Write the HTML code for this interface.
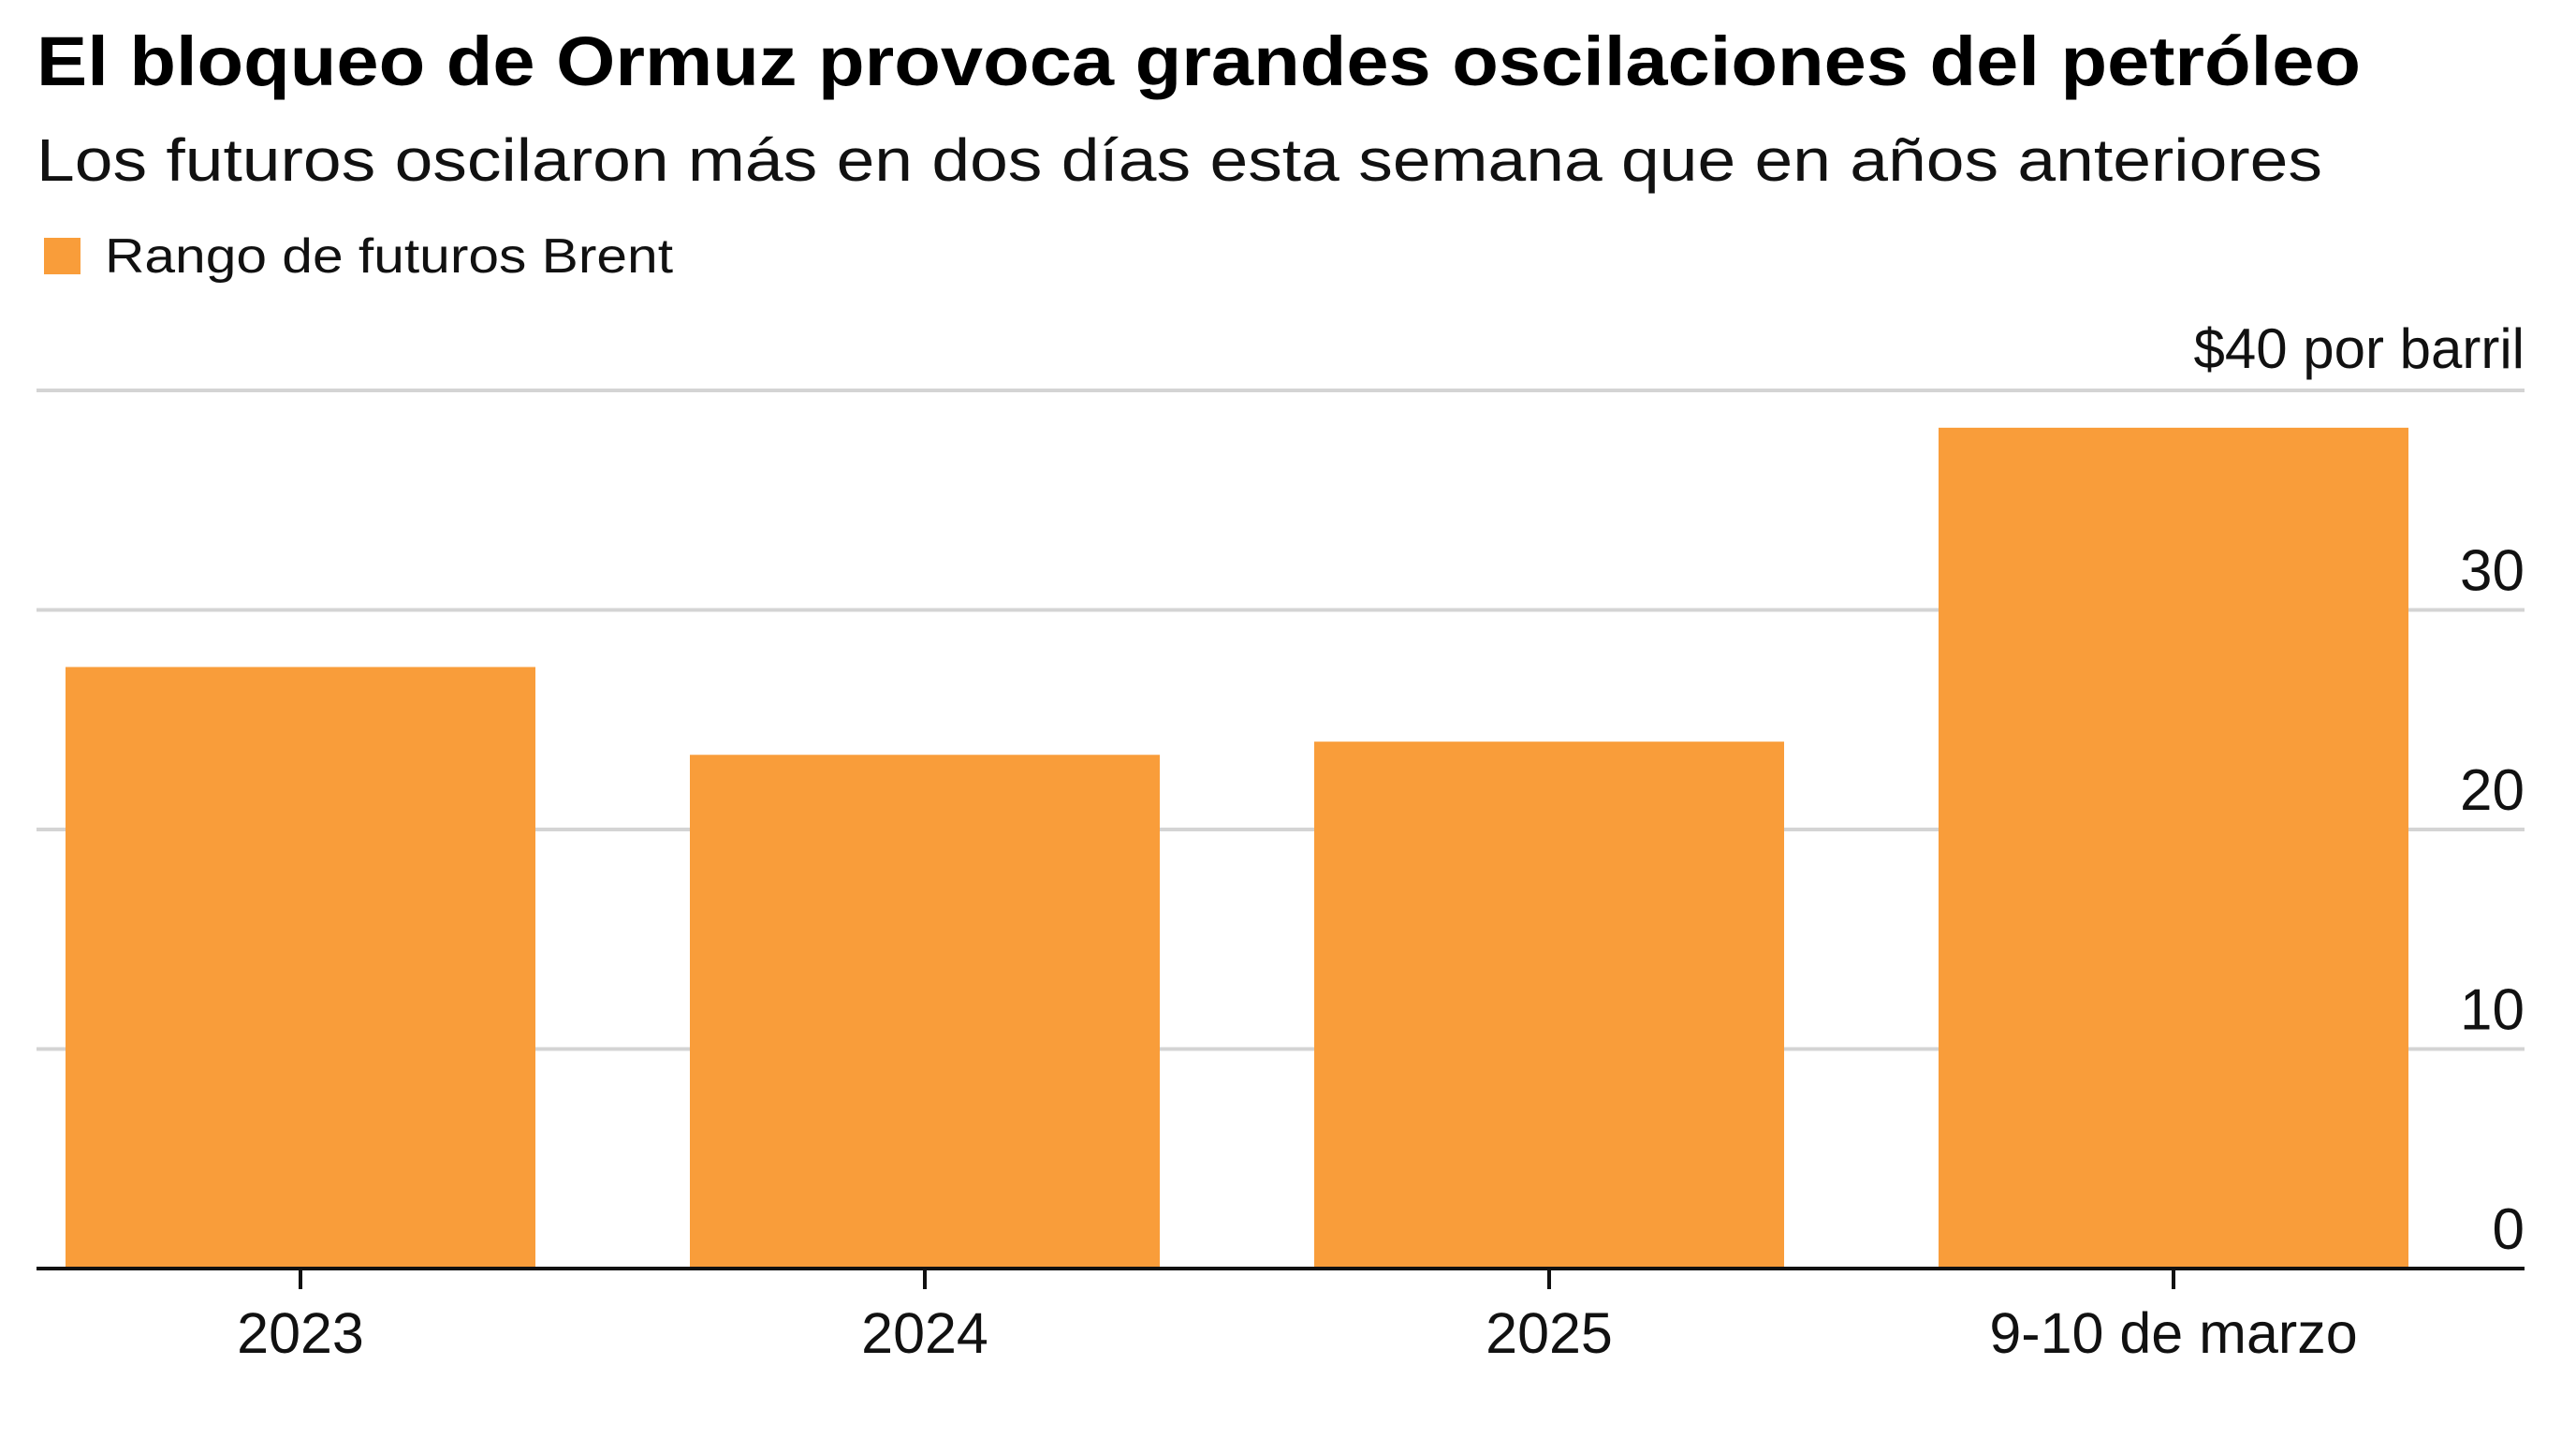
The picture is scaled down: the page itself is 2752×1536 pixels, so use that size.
<!DOCTYPE html>
<html><head><meta charset="utf-8"><style>
body{margin:0;background:#fff;}
svg{display:block;font-family:"Liberation Sans",sans-serif;}
</style></head><body>
<svg id="chart" width="2752" height="1536" viewBox="0 0 2752 1536">
<text x="39" y="91" font-size="74" font-weight="bold" fill="#000" textLength="2483" lengthAdjust="spacingAndGlyphs">El bloqueo de Ormuz provoca grandes oscilaciones del petróleo</text>
<text x="39" y="193" font-size="64" fill="#111" textLength="2442" lengthAdjust="spacingAndGlyphs">Los futuros oscilaron más en dos días esta semana que en años anteriores</text>
<rect x="47" y="254" width="39" height="39" fill="#f99d3a"/>
<text x="112" y="291" font-size="52" fill="#111" textLength="607" lengthAdjust="spacingAndGlyphs">Rango de futuros Brent</text>
<g id="grid"></g><g id="bars"></g><g id="xaxis"></g>
</svg>
<script>
const categories=["2023","2024","2025","9-10 de marzo"];
const values=[27.4,23.4,24.0,38.3];
const ticks=[0,10,20,30,40];
const tickLabels=["0","10","20","30","$40 por barril"];
const NS="http://www.w3.org/2000/svg";
const L=39,R=2697,Y0=1355,Y40=417;
const y=v=>Y0-(Y0-Y40)*v/40;
const band=667;
const cx=i=>321+band*i;
const bw=502;
function mk(t,a,p){const e=document.createElementNS(NS,t);for(const k in a)e.setAttribute(k,a[k]);p.appendChild(e);return e;}
const g=document.getElementById('grid');
ticks.forEach((t,i)=>{
 if(t>0){const l=mk('line',{x1:L,x2:R,y1:y(t),y2:y(t),stroke:'#d4d4d4','stroke-width':4},g);
 
 }
 const tx=mk('text',{x:R,y:t===40?393:y(t)-21,'text-anchor':'end','font-size':t===40?60:62,fill:'#111'},g);
 tx.textContent=tickLabels[i];
 
 
});
const b=document.getElementById('bars');
values.forEach((v,i)=>{
 const r=mk('rect',{x:cx(i)-bw/2,y:y(v),width:bw,height:Y0-y(v),fill:'#f99d3a'},b);
 
 
});
const x=document.getElementById('xaxis');
const ax=mk('line',{x1:L,x2:R,y1:Y0,y2:Y0,stroke:'#111','stroke-width':4},x);


categories.forEach((c,i)=>{
 const tk=mk('line',{x1:cx(i),x2:cx(i),y1:Y0,y2:Y0+22,stroke:'#111','stroke-width':4},x);
 
 
 const t=mk('text',{x:cx(i),y:1445,'text-anchor':'middle','font-size':61,fill:'#111'},x);
 t.textContent=c;
 
 
});
</script>
</body></html>
